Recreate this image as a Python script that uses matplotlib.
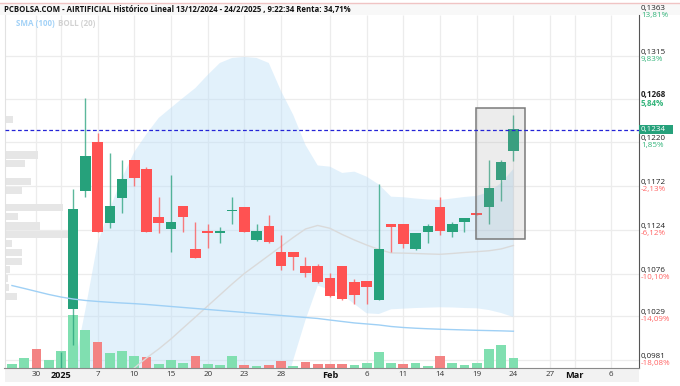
import numpy as np
import pandas as pd
import matplotlib
matplotlib.use('Agg')
import matplotlib.pyplot as plt
from matplotlib.patches import Rectangle
from matplotlib.lines import Line2D

plt.rcParams['font.family'] = ['Open Sans', 'DejaVu Sans']

# trading days on screen (Madrid), the tail is empty future space
holidays = ['2024-12-25', '2024-12-26', '2025-01-01']
days = pd.bdate_range('2024-12-24', '2025-03-07')
days = days[~days.isin(pd.to_datetime(holidays))]

opens = [0.0928, 0.0935, 0.0945, 0.0938, 0.0944, 0.10370, 0.11667, 0.12202, 0.11312, 0.11593,
         0.12007, 0.11908, 0.11381, 0.11246, 0.11502, 0.11026, 0.11220, 0.11210, 0.11450, 0.11488,
         0.11128, 0.11282, 0.11000, 0.11000, 0.10843, 0.10843, 0.10708, 0.10843, 0.10664, 0.10678,
         0.10470, 0.11304, 0.11304, 0.11030, 0.11213, 0.11488, 0.11213, 0.11330, 0.11422, 0.11494,
         0.11788, 0.12110]
highs = [0.0938, 0.0948, 0.0947, 0.0944, 0.0990, 0.11689, 0.12685, 0.12301, 0.12081, 0.12007,
         0.12007, 0.11934, 0.11598, 0.11843, 0.11502, 0.11323, 0.11304, 0.11268, 0.11604, 0.11488,
         0.11304, 0.11403, 0.11183, 0.11000, 0.10938, 0.10861, 0.10763, 0.10843, 0.10700, 0.10678,
         0.11744, 0.11304, 0.11304, 0.11210, 0.11304, 0.11604, 0.11330, 0.11367, 0.11422, 0.12007,
         0.12007, 0.12502]
lows = [0.0926, 0.0932, 0.0935, 0.0936, 0.0940, 0.09975, 0.11598, 0.11213, 0.11264, 0.11422,
        0.11725, 0.11213, 0.11209, 0.11000, 0.11220, 0.10930, 0.11037, 0.11099, 0.11301, 0.11213,
        0.11120, 0.11100, 0.10799, 0.10799, 0.10719, 0.10660, 0.10505, 0.10470, 0.10422, 0.10422,
        0.10470, 0.11000, 0.11037, 0.11019, 0.11099, 0.11183, 0.11165, 0.11220, 0.11406, 0.11304,
        0.11560, 0.12000]
closes = [0.0935, 0.0945, 0.0938, 0.0942, 0.0962, 0.11466, 0.12051, 0.11213, 0.11502, 0.11802,
          0.11806, 0.11213, 0.11312, 0.11323, 0.11384, 0.10934, 0.11210, 0.11220, 0.11460, 0.11213,
          0.11227, 0.11103, 0.10846, 0.10945, 0.10769, 0.10664, 0.10513, 0.10477, 0.10527, 0.10615,
          0.11030, 0.11268, 0.11085, 0.11209, 0.11282, 0.11227, 0.11304, 0.11367, 0.11406, 0.11696,
          0.11982, 0.12345]
prev_close = 0.0930
volumes = [80, 200, 386, 166, 334, 1054, 768, 530, 300, 334, 248, 228, 80, 154, 94, 248, 80, 54,
           248, 54, 34, 68, 148, 34, 114, 80, 80, 80, 54, 94, 320, 94, 80, 108, 48, 248, 94, 60,
           108, 388, 468, 200]

sma100 = [0.10628, 0.10596, 0.10563, 0.10530, 0.10502, 0.10480, 0.10464, 0.10453, 0.10444, 0.10436,
          0.10429, 0.10420, 0.10409, 0.10398, 0.10387, 0.10376, 0.10365, 0.10354, 0.10343, 0.10332,
          0.10321, 0.10310, 0.10299, 0.10288, 0.10277, 0.10266, 0.10249, 0.10233, 0.10217, 0.10206,
          0.10195, 0.10178, 0.10167, 0.10159, 0.10153, 0.10148, 0.10144, 0.10140, 0.10136, 0.10133,
          0.10130, 0.10126]

boll_first = '2025-01-03'
boll_up = [0.0968, 0.10359, 0.11092, 0.11469, 0.11810, 0.12095, 0.12293, 0.12469, 0.12581, 0.12691,
           0.12798, 0.12941, 0.13073, 0.13128, 0.13139, 0.13128, 0.13073, 0.12765, 0.12502, 0.12172,
           0.11947, 0.11934, 0.11865, 0.11879, 0.11824, 0.11738, 0.11604, 0.11598, 0.11584, 0.11573,
           0.11568, 0.11584, 0.11601, 0.11612, 0.11656, 0.11755, 0.11908]
boll_mid = [0.0935, 0.09392, 0.09458, 0.09535, 0.09623, 0.09722, 0.09832, 0.09931, 0.10041, 0.10162,
            0.10282, 0.10403, 0.10524, 0.10645, 0.10760, 0.10859, 0.10958, 0.11057, 0.11156, 0.11249,
            0.11288, 0.11257, 0.11189, 0.11128, 0.11073, 0.11024, 0.10986, 0.10984, 0.10980, 0.10975,
            0.10971, 0.10980, 0.10991, 0.11000, 0.11010, 0.11030, 0.11068]
boll_low = [0.0902, 0.08425, 0.07824, 0.07601, 0.07436, 0.07349, 0.07371, 0.07393, 0.07501, 0.07633,
            0.07766, 0.07865, 0.07975, 0.08162, 0.08381, 0.08590, 0.08843, 0.09349, 0.09810, 0.10249,
            0.10628, 0.10579, 0.10527, 0.10425, 0.10323, 0.10315, 0.10367, 0.10374, 0.10381, 0.10385,
            0.10389, 0.10387, 0.10381, 0.10378, 0.10359, 0.10326, 0.10282]

# volume-at-price profile on the left edge
profile_price = [0.12447, 0.12062, 0.11967, 0.11766, 0.11669, 0.11480, 0.11381, 0.11282,
                 0.11192, 0.11092, 0.10991, 0.10894, 0.10799, 0.10703, 0.10607, 0.10510]
profile_vol = [88, 338, 205, 265, 172, 588, 132, 355, 638, 78, 172, 178, 55, 38, 45, 122]

tick_dates = ['2024-12-30', '2025-01-02', '2025-01-07', '2025-01-10', '2025-01-15', '2025-01-20',
              '2025-01-23', '2025-01-28', '2025-02-03', '2025-02-06', '2025-02-11', '2025-02-14',
              '2025-02-19', '2025-02-24', '2025-02-27', '2025-03-03', '2025-03-06']
tick_labels = ['30', '2025', '7', '10', '15', '20', '23', '28', 'Feb', '6', '11', '14', '19',
               '24', '27', 'Mar', '6']
bold_labels = ['2025', 'Feb', 'Mar']

price_ticks = [0.1363, 0.1315, 0.1268, 0.1220, 0.1172, 0.1124, 0.1076, 0.1029, 0.0981]
price_labels = ['0,1363', '0,1315', '0,1268', '0,1220', '0,1172', '0,1124', '0,1076', '0,1029', '0,0981']
pct_labels = ['13,81%', '9,83%', '5,84%', '1,85%', '-2,13%', '-6,12%', '-10,10%', '-14,09%', '-18,08%']

last_price = 0.1234
box_start, box_end = '2025-02-19', '2025-02-24'
box_low, box_high = 0.11139, 0.12575

title = 'PCBOLSA.COM - AIRTIFICIAL Histórico Lineal 13/12/2024 - 24/2/2025 , 9:22:34 Renta: 34,71%'

GREEN, RED = '#26a17b', '#ff5252'
VGREEN, VRED = '#80dfb0', '#f38383'

pos = {d.strftime('%Y-%m-%d'): i for i, d in enumerate(days)}
x = np.arange(len(closes))
o, h, l, c = map(np.array, (opens, highs, lows, closes))
xb = np.arange(pos[boll_first], pos[boll_first] + len(boll_up))

fig = plt.figure(figsize=(6.8, 3.86), dpi=100)
ax = fig.add_axes([4.5 / 680, 18 / 386, 634.5 / 680, 353 / 386])
ax_vol = ax.twinx()
ax_prof = ax.twiny()
ax_vol.set_zorder(1)
ax_prof.set_zorder(2)
ax.set_zorder(3)
ax.patch.set_visible(False)

ax.set_xlim(-0.61, 51.27)
ax.set_ylim(0.09722, 0.13600)
ax_vol.set_ylim(0, 7060)
ax_prof.set_xlim(0, 6345)

tpos = [pos[d] for d in tick_dates]

# grid, band and volume sit underneath the candles
ax_vol.vlines(tpos, 0, 1, transform=ax_vol.get_xaxis_transform(), color='#ececec', lw=0.9, zorder=0)
ax_vol.hlines(price_ticks, 0, 1, transform=ax.get_yaxis_transform(), color='#ececec', lw=0.9, zorder=0)
ax_vol.fill_between(xb, boll_low, boll_up, transform=ax.transData, color='#bfe0f8', alpha=0.45,
                    lw=0, zorder=1)
up_day = np.diff(np.concatenate([[prev_close], c])) >= 0
ax_vol.bar(x, volumes, width=0.8, color=np.where(up_day, VGREEN, VRED), zorder=2)

ax_prof.barh(profile_price, profile_vol, height=0.00077, color='#e6e6e6', align='center')

# indicators and candles
ax.plot(xb, boll_mid, color='#dadada', lw=1, zorder=2)
col = np.where(c >= o, GREEN, RED)
ax.vlines(x, l, h, color=col, lw=1, alpha=0.75, zorder=3)
body = np.maximum(np.abs(c - o), 0.00012)
ax.bar(x, body, bottom=np.minimum(o, c), width=0.86, color=col, zorder=4)
ax.plot(x, sma100, color='#9fd0f5', lw=1, zorder=5)

bx0 = pos[box_start] - 0.05
bw = pos[box_end] - pos[box_start] + 0.97
ax.add_patch(Rectangle((bx0, box_low), bw, box_high - box_low, fc='#999999', alpha=0.18,
                       ec='none', zorder=6))
ax.add_patch(Rectangle((bx0, box_low), bw, box_high - box_low, fc='none', ec='#7a7a7a',
                       lw=1.1, zorder=6))

ax.axhline(last_price, color='#2323d6', lw=0.9, ls=(0, (3, 2)), zorder=7)

# axes dressing
for s in ax_vol.spines.values():
    s.set_visible(False)
for s in ax_prof.spines.values():
    s.set_visible(False)
ax_vol.set_yticks([])
ax_prof.set_xticks([])
ax.spines['top'].set_visible(False)
ax.spines['left'].set_color('#e2e2e2')
ax.spines['right'].set_color('#555555')
ax.spines['bottom'].set_color('#8a8a8a')
ax.set_yticks([])
ax.set_xticks(tpos)
ax.set_xticklabels(tick_labels)
ax.tick_params(axis='x', length=0, pad=2.5, labelsize=5.8, labelcolor='#333333')
for t in ax.get_xticklabels():
    if t.get_text() in bold_labels:
        t.set_fontweight('bold')
        t.set_fontsize(6.6)
        t.set_color('#111111')

ax.add_patch(Rectangle((0, -14 / 353), 1, 14 / 353, transform=ax.transAxes, clip_on=False,
                       fc='#f2f2f2', ec='none', zorder=0))

ytr = ax.get_yaxis_transform()
ax.add_patch(Rectangle((1.0, last_price - 0.0005), 0.054, 0.0010, transform=ytr, clip_on=False,
                       fc=GREEN, ec='none', zorder=8))
ax.text(1.0032, last_price, '0,1234', transform=ytr, va='center', ha='left', fontsize=5.8,
        color='white', clip_on=False, zorder=9)
for p, pl, cl in zip(price_ticks, price_labels, pct_labels):
    heavy = pl == '0,1268'
    ax.text(1.0032, p, pl, transform=ytr, va='bottom', ha='left', fontsize=5.8, color='#222222',
            fontweight='bold' if heavy else 'normal', clip_on=False, zorder=10)
    ax.text(1.0032, p, cl, transform=ytr, va='top', ha='left', fontsize=5.8,
            color='#35b57c' if not cl.startswith('-') else '#ff6464',
            fontweight='bold' if heavy else 'normal', clip_on=False, zorder=10)

# title strip and legend
fig.add_artist(Rectangle((0, 1 - 15 / 386), 1, 12 / 386, transform=fig.transFigure,
                         fc='#f8f8f8', ec='none'))
fig.add_artist(Line2D([0, 1], [1 - 2.5 / 386] * 2, transform=fig.transFigure, color='#f0c4c4', lw=1))
fig.text(4 / 680, 1 - 9.5 / 386, title, va='center', ha='left', fontsize=5.6, fontweight='bold',
         color='#111111')
fig.text(16 / 680, 1 - 23.5 / 386, 'SMA (100)', va='center', ha='left', fontsize=5.8,
         fontweight='bold', color='#a3d2f7')
fig.text(58 / 680, 1 - 23.5 / 386, 'BOLL (20)', va='center', ha='left', fontsize=5.8,
         fontweight='bold', color='#d2d2d2')

fig.savefig('out.png', dpi=100)
